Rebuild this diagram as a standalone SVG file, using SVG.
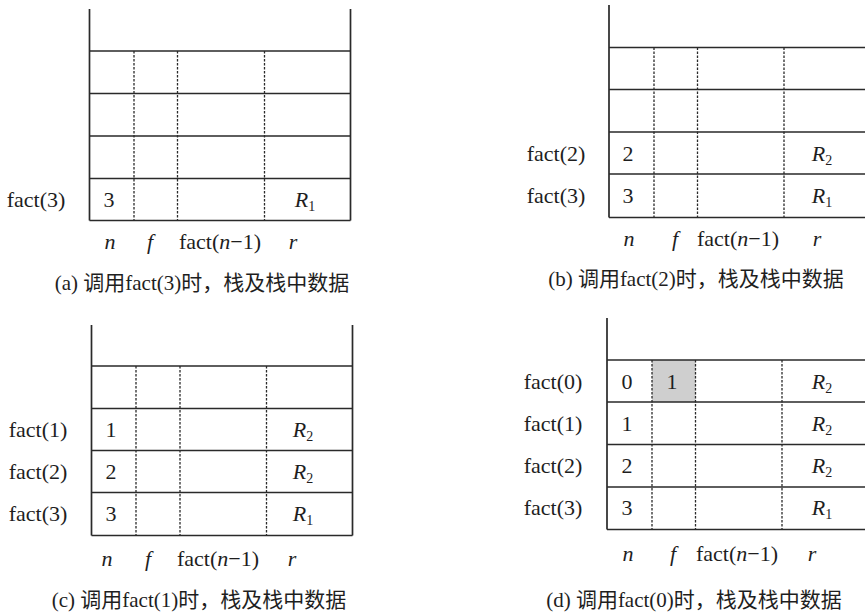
<svg xmlns="http://www.w3.org/2000/svg" width="865" height="614" viewBox="0 0 865 614">
<style>
.bg{fill:#ffffff}
.ln{stroke:#2a2a2a;stroke-width:1.7;fill:none}
.ds{stroke:#2a2a2a;stroke-width:1.3;stroke-dasharray:2.5 1.5;fill:none}
.t{font-family:"Liberation Serif","Times New Roman",serif;font-size:22px;fill:#1e1e1e;text-anchor:middle}
.i{font-style:italic}
.s{font-size:14px}
.cap{font-family:"Liberation Serif","Noto Sans CJK SC",serif;font-size:21px;fill:#1e1e1e;text-anchor:middle}
.gray{fill:#cfcfcf}
</style>
<rect class="bg" x="0" y="0" width="865" height="614"/>

<g id="panel-a">
  <path class="ln" d="M89.5 9V220.5M350.5 9V220.5M89.5 51H350.5M89.5 93.5H350.5M89.5 136H350.5M89.5 178.5H350.5M89.5 220.5H350.5"/>
  <path class="ds" d="M134 51V220.5M177.5 51V220.5M264.5 51V220.5"/>
  <text class="t" x="36" y="207">fact(3)</text>
  <text class="t" x="109" y="207">3</text>
  <text class="t" x="305" y="207"><tspan class="i">R</tspan><tspan class="s" dy="4">1</tspan></text>
  <text class="t i" x="110" y="249">n</text>
  <text class="t i" x="150" y="249">f</text>
  <text class="t" x="220" y="249">fact(<tspan class="i">n</tspan>−1)</text>
  <text class="t i" x="293" y="249">r</text>
  <text class="cap" x="202" y="290">(a) 调用fact(3)时，栈及栈中数据</text>
</g>

<g id="panel-b">
  <path class="ln" d="M609 5V217.5M609 47.5H865M609 89.5H865M609 132H865M609 174H865M609 217.5H865"/>
  <path class="ds" d="M654 47.5V217.5M697.5 47.5V217.5M784 47.5V217.5"/>
  <text class="t" x="556" y="160.5">fact(2)</text>
  <text class="t" x="556" y="202.5">fact(3)</text>
  <text class="t" x="628" y="160.5">2</text>
  <text class="t" x="628" y="202.5">3</text>
  <text class="t" x="822" y="160.5"><tspan class="i">R</tspan><tspan class="s" dy="4">2</tspan></text>
  <text class="t" x="822" y="202.5"><tspan class="i">R</tspan><tspan class="s" dy="4">1</tspan></text>
  <text class="t i" x="629" y="246">n</text>
  <text class="t i" x="675" y="246">f</text>
  <text class="t" x="738" y="246">fact(<tspan class="i">n</tspan>−1)</text>
  <text class="t i" x="817" y="246">r</text>
  <text class="cap" x="696" y="286">(b) 调用fact(2)时，栈及栈中数据</text>
</g>

<g id="panel-c">
  <path class="ln" d="M91.5 325V535.5M352.5 325V535.5M91.5 366H352.5M91.5 408.5H352.5M91.5 450.5H352.5M91.5 492.5H352.5M91.5 535.5H352.5"/>
  <path class="ds" d="M136 366V535.5M180 366V535.5M266.5 366V535.5"/>
  <text class="t" x="38" y="437">fact(1)</text>
  <text class="t" x="38" y="479">fact(2)</text>
  <text class="t" x="38" y="521">fact(3)</text>
  <text class="t" x="111" y="437">1</text>
  <text class="t" x="111" y="479">2</text>
  <text class="t" x="111" y="521">3</text>
  <text class="t" x="303" y="437"><tspan class="i">R</tspan><tspan class="s" dy="4">2</tspan></text>
  <text class="t" x="303" y="479"><tspan class="i">R</tspan><tspan class="s" dy="4">2</tspan></text>
  <text class="t" x="303" y="521"><tspan class="i">R</tspan><tspan class="s" dy="4">1</tspan></text>
  <text class="t i" x="107" y="566">n</text>
  <text class="t i" x="148" y="566">f</text>
  <text class="t" x="218" y="566">fact(<tspan class="i">n</tspan>−1)</text>
  <text class="t i" x="292" y="566">r</text>
  <text class="cap" x="199" y="607">(c) 调用fact(1)时，栈及栈中数据</text>
</g>

<g id="panel-d">
  <rect class="gray" x="652" y="360" width="43.5" height="42"/>
  <path class="ln" d="M607 318V529.5M607 360H865M607 402H865M607 444.5H865M607 487H865M607 529.5H865"/>
  <path class="ds" d="M652 360V529.5M695.5 360V529.5M782 360V529.5"/>
  <text class="t" x="553" y="388.5">fact(0)</text>
  <text class="t" x="553" y="430.5">fact(1)</text>
  <text class="t" x="553" y="472.5">fact(2)</text>
  <text class="t" x="553" y="514.5">fact(3)</text>
  <text class="t" x="627" y="388.5">0</text>
  <text class="t" x="672" y="388.5">1</text>
  <text class="t" x="627" y="430.5">1</text>
  <text class="t" x="627" y="472.5">2</text>
  <text class="t" x="627" y="514.5">3</text>
  <text class="t" x="822" y="388.5"><tspan class="i">R</tspan><tspan class="s" dy="4">2</tspan></text>
  <text class="t" x="822" y="430.5"><tspan class="i">R</tspan><tspan class="s" dy="4">2</tspan></text>
  <text class="t" x="822" y="472.5"><tspan class="i">R</tspan><tspan class="s" dy="4">2</tspan></text>
  <text class="t" x="822" y="514.5"><tspan class="i">R</tspan><tspan class="s" dy="4">1</tspan></text>
  <text class="t i" x="628" y="561">n</text>
  <text class="t i" x="673" y="561">f</text>
  <text class="t" x="737" y="561">fact(<tspan class="i">n</tspan>−1)</text>
  <text class="t i" x="812" y="561">r</text>
  <text class="cap" x="694" y="607">(d) 调用fact(0)时，栈及栈中数据</text>
</g>
</svg>
